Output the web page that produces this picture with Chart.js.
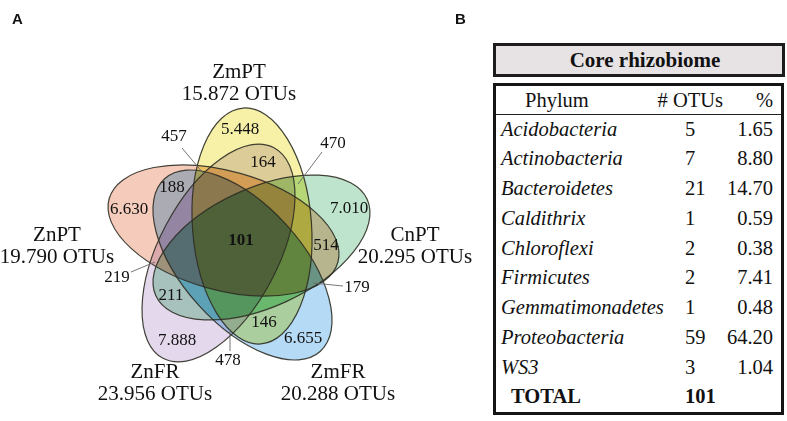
<!DOCTYPE html>
<html><head><meta charset="utf-8">
<script src="https://cdn.jsdelivr.net/npm/chart.js@4.4.0/dist/chart.umd.min.js"></script>
<style>
html,body{margin:0;padding:0;background:#fff;}
#wrap{position:relative;width:787px;height:421px;overflow:hidden;font-family:"Liberation Serif","Times New Roman",serif;color:#111;}
#chartBox{position:absolute;left:0;top:0;width:787px;height:421px;}
.panel{position:absolute;font-family:"Liberation Sans",Arial,sans-serif;font-weight:bold;font-size:15px;line-height:15px;color:#111;}
#title{position:absolute;left:493px;top:43px;width:274px;padding-left:12px;height:28px;border:3px solid #1d1d1d;background:#e7e3e5;text-align:center;font-weight:bold;font-size:21px;line-height:28px;}
#box{position:absolute;left:493px;top:83px;width:285px;height:326px;border:3px solid #151515;background:#fff;}
#box .cell{position:absolute;white-space:nowrap;font-size:20.5px;line-height:24px;}
#box .hline{position:absolute;left:0;width:285px;height:0;border-top:1.5px solid #222;}
</style>
</head><body>
<div id="wrap">
  <div id="chartBox"><canvas id="c"></canvas></div>
  <div class="panel" style="left:12px;top:11px;">A</div>
  <div class="panel" style="left:455px;top:11px;">B</div>
  <div id="title">Core rhizobiome</div>
  <div id="box"></div>
</div>
<script>
// ---------- DATA ----------
const setNames = ['ZmPT', 'CnPT', 'ZmFR', 'ZnFR', 'ZnPT'];
const setTotalOTUs = [15872, 20295, 20288, 23956, 19790];

// region membership and OTU counts of the Venn diagram
const regionSets = [
  ['ZmPT'], ['CnPT'], ['ZmFR'], ['ZnFR'], ['ZnPT'],
  ['ZmPT','ZnFR'], ['CnPT','ZnPT'], ['ZmPT','ZmFR'], ['ZnFR','CnPT'], ['ZnPT','ZmFR'],
  ['ZmPT','ZnPT'], ['ZmPT','CnPT'], ['CnPT','ZmFR'], ['ZmFR','ZnFR'], ['ZnFR','ZnPT'],
  ['ZmPT','CnPT','ZmFR','ZnFR','ZnPT']
];
const regionOTUs = [5448, 7010, 6655, 7888, 6630, 164, 514, 146, 211, 188, 457, 470, 179, 478, 219, 101];

// core rhizobiome table
const tableHeaders = ['Phylum', '# OTUs', '%'];
const phyla = ['Acidobacteria','Actinobacteria','Bacteroidetes','Caldithrix','Chloroflexi','Firmicutes','Gemmatimonadetes','Proteobacteria','WS3'];
const phylumOTUs = [5, 7, 21, 1, 2, 2, 1, 59, 3];
const phylumPercent = ['1.65','8.80','14.70','0.59','0.38','7.41','0.48','64.20','1.04'];
const totalLabel = 'TOTAL';
const totalOTUs = 101;

// ---------- LAYOUT / STYLE ----------
const setColors = ['#f6f1aa', '#bee4cd', '#b4daf5', '#e4d8ec', '#f5cbbc'];
const toneCurve = [0, 0.05, 0.11, 0.17, 0.26, 0.40, 0.57, 0.70, 0.80, 0.90, 1];
const ellipseLayout = [
  {cx: 252,   cy: 226,   a: 118.3, b: 59.5, rot: -94.3},
  {cx: 261.5, cy: 247.5, a: 116.1, b: 59.5, rot: -24.5},
  {cx: 242.5, cy: 265,   a: 116.2, b: 59.5, rot: 47.9},
  {cx: 218.5, cy: 253,   a: 119,   b: 59.5, rot: 117.8},
  {cx: 223.5, cy: 230.5, a: 118.7, b: 59.5, rot: 195.5}
];
const setLabelPos = [
  {x: 239, y: 78}, {x: 415, y: 241}, {x: 338, y: 378}, {x: 155, y: 378}, {x: 57, y: 241}
];
const regionLabelPos = [
  {x:240,y:130},{x:349,y:209},{x:303,y:339},{x:177,y:341},{x:129,y:210},
  {x:263,y:163},{x:326,y:246},{x:264,y:323},{x:171,y:296},{x:172,y:188},
  {x:174,y:137},{x:333,y:144},{x:357,y:288},{x:228,y:361},{x:117,y:278},
  {x:241,y:241}
];
const leaderLines = {
  10: [182,148, 203,173],
  11: [322,152, 298,184],
  12: [343,286, 313,283],
  13: [230,351, 230,329],
  14: [131,272, 155,262]
};

function fmt(n){
  if (n >= 1000) return Math.floor(n/1000) + '.' + String(n % 1000).padStart(3,'0');
  return String(n);
}

const lut = new Uint8ClampedArray(256);
for (let v = 0; v < 256; v++) {
  const t = v / 255 * 10, i = Math.min(9, Math.floor(t)), f = t - i;
  lut[v] = Math.round((toneCurve[i] + (toneCurve[i+1] - toneCurve[i]) * f) * 255);
}

const vennPlugin = {
  id: 'venn',
  beforeDraw(chart){
    const {ctx} = chart;
    ctx.save();
    ctx.fillStyle = '#ffffff';
    ctx.fillRect(0,0,chart.width,chart.height);
    ctx.restore();
  },
  beforeDatasetsDraw(chart){
    const {ctx, scales:{x}} = chart;
    const meta = chart.getDatasetMeta(0);
    const k = (x.getPixelForValue(100) - x.getPixelForValue(0)) / 100;
    const W = ctx.canvas.width, H = ctx.canvas.height;
    const off = document.createElement('canvas');
    off.width = W; off.height = H;
    const o = off.getContext('2d');
    o.fillStyle = '#ffffff';
    o.fillRect(0,0,W,H);
    o.globalCompositeOperation = 'multiply';
    meta.data.forEach((pt, i) => {
      const L = ellipseLayout[i];
      o.beginPath();
      o.ellipse(pt.x, pt.y, L.a*k, L.b*k, L.rot*Math.PI/180, 0, Math.PI*2);
      o.fillStyle = setColors[i];
      o.fill();
    });
    const img = o.getImageData(0,0,W,H);
    const d = img.data;
    for (let p = 0; p < d.length; p += 4) {
      d[p] = lut[d[p]]; d[p+1] = lut[d[p+1]]; d[p+2] = lut[d[p+2]];
    }
    o.putImageData(img, 0, 0);
    ctx.save();
    ctx.drawImage(off, 0, 0);
    ctx.strokeStyle = 'rgba(45,45,35,0.9)';
    ctx.lineWidth = 1.2;
    meta.data.forEach((pt, i) => {
      const L = ellipseLayout[i];
      ctx.beginPath();
      ctx.ellipse(pt.x, pt.y, L.a*k, L.b*k, L.rot*Math.PI/180, 0, Math.PI*2);
      ctx.stroke();
    });
    ctx.restore();
  },
  afterDatasetsDraw(chart){
    const {ctx, scales:{x, y}} = chart;
    ctx.save();
    ctx.strokeStyle = '#666';
    ctx.lineWidth = 0.9;
    Object.keys(leaderLines).forEach(key => {
      const s = leaderLines[key];
      ctx.beginPath();
      ctx.moveTo(x.getPixelForValue(s[0]), y.getPixelForValue(s[1]));
      ctx.lineTo(x.getPixelForValue(s[2]), y.getPixelForValue(s[3]));
      ctx.stroke();
    });
    const rmeta = chart.getDatasetMeta(1);
    ctx.fillStyle = '#111';
    ctx.textAlign = 'center';
    ctx.textBaseline = 'middle';
    rmeta.data.forEach((pt, i) => {
      const all = regionSets[i].length === setNames.length;
      ctx.font = (all ? 'bold ' : '') + '17px "Liberation Serif", "Times New Roman", serif';
      ctx.fillText(fmt(regionOTUs[i]), pt.x, pt.y);
    });
    const smeta = chart.getDatasetMeta(2);
    ctx.font = '21px "Liberation Serif", "Times New Roman", serif';
    ctx.textBaseline = 'alphabetic';
    smeta.data.forEach((pt, i) => {
      ctx.fillText(setNames[i], pt.x, pt.y);
      ctx.fillText(fmt(setTotalOTUs[i]) + ' OTUs', pt.x, pt.y + 22);
    });
    ctx.restore();
  }
};

new Chart(document.getElementById('c'), {
  type: 'scatter',
  data: {
    datasets: [
      { label: 'sets', data: ellipseLayout.map(e => ({x: e.cx, y: e.cy})), pointRadius: 0 },
      { label: 'regions', data: regionLabelPos.map(p => ({x: p.x, y: p.y})), pointRadius: 0 },
      { label: 'setLabels', data: setLabelPos.map(p => ({x: p.x, y: p.y})), pointRadius: 0 }
    ]
  },
  options: {
    responsive: true,
    maintainAspectRatio: false,
    animation: false,
    devicePixelRatio: 1,
    layout: { padding: 0 },
    events: [],
    plugins: { legend: {display: false}, tooltip: {enabled: false} },
    scales: {
      x: { type: 'linear', min: 0, max: 787, display: false },
      y: { type: 'linear', min: 0, max: 421, reverse: true, display: false }
    }
  },
  plugins: [vennPlugin]
});

// ---------- TABLE ----------
const box = document.getElementById('box');
const boxTop = 86;
const boxLeft = 496;
const baseOff = 18.5;
function cell(text, baseline, opts){
  const d = document.createElement('div');
  d.className = 'cell';
  d.textContent = text;
  d.style.top = (baseline - boxTop - baseOff) + 'px';
  if (opts.left != null) d.style.left = (opts.left - boxLeft) + 'px';
  if (opts.right != null) { d.style.right = (boxLeft + 285 - opts.right) + 'px'; d.style.textAlign = 'right'; }
  if (opts.italic) d.style.fontStyle = 'italic';
  if (opts.bold) d.style.fontWeight = 'bold';
  box.appendChild(d);
}
cell(tableHeaders[0], 106, {left: 525});
cell(tableHeaders[1], 106, {right: 723});
cell(tableHeaders[2], 106, {right: 773});
const hl = document.createElement('div');
hl.className = 'hline';
hl.style.top = (114 - boxTop) + 'px';
box.appendChild(hl);
const rowStep = 29.75;
phyla.forEach((p, i) => {
  const b = 135 + i*rowStep;
  cell(p, b, {left: 501, italic: true});
  cell(String(phylumOTUs[i]), b, {left: 685});
  cell(phylumPercent[i], b, {right: 773});
});
const tb = 135 + phyla.length*rowStep;
cell(totalLabel, tb, {left: 511, bold: true});
cell(String(totalOTUs), tb, {left: 685, bold: true});
</script>
</body></html>
